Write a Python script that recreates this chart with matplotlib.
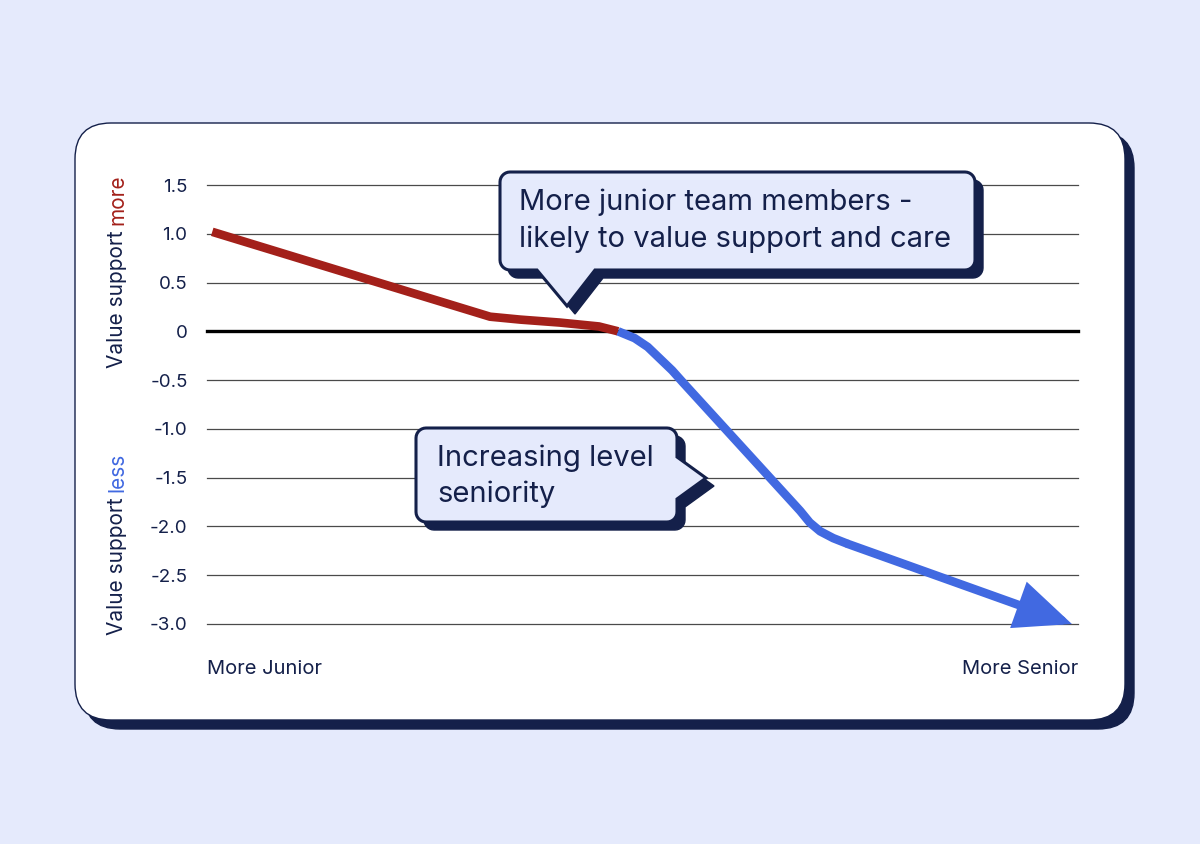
import numpy as np
import matplotlib.pyplot as plt
from matplotlib.patches import FancyBboxPatch, Polygon

plt.rcParams['font.family'] = ['Inter', 'DejaVu Sans']

# data (x: 0 = most junior, 100 = most senior)
red_x = [0.6, 32.5, 36.0, 40.5, 45.0, 47.2]
red_y = [1.02, 0.15, 0.12, 0.09, 0.05, 0.0]
blue_x = [47.2, 49.1, 50.6, 52.0, 53.4, 54.6, 68.1, 69.2, 70.4, 71.9, 73.6]
blue_y = [0.0, -0.07, -0.16, -0.28, -0.40, -0.52, -1.84, -1.96, -2.05, -2.12, -2.18]
arrow_tip = (99.3, -3.0)
y_ticks = [1.5, 1.0, 0.5, 0, -0.5, -1.0, -1.5, -2.0, -2.5, -3.0]
y_tick_labels = ['1.5', '1.0', '0.5', '0', '-0.5', '-1.0', '-1.5', '-2.0', '-2.5', '-3.0']

NAVY = '#14204A'
RED = '#A3201A'
BLUE = '#4169E1'
BG = '#E5EAFC'

W, H = 1200, 844
fig = plt.figure(figsize=(12, 8.44), dpi=100, facecolor=BG)

# background layer in pixel coordinates
bg = fig.add_axes([0, 0, 1, 1])
bg.set_xlim(0, W)
bg.set_ylim(H, 0)
bg.axis('off')
bg.add_patch(FancyBboxPatch((84, 132), 1050, 597, boxstyle='round,pad=0,rounding_size=36',
                            fc=NAVY, ec=NAVY, lw=1))
bg.add_patch(FancyBboxPatch((75, 123), 1050, 597, boxstyle='round,pad=0,rounding_size=36',
                            fc='white', ec=NAVY, lw=1))

# y label made of two coloured pieces (baseline on the right side)
lab = dict(rotation=90, rotation_mode='anchor', va='baseline', fontsize=15)
r = fig.canvas.get_renderer()
for y0, word, col in [(368, 'more', RED), (635, 'less', BLUE)]:
    t = bg.text(123, y0, 'Value support', ha='left', color=NAVY, **lab)
    h = t.get_window_extent(renderer=r).height
    bg.text(123, y0 - h - 5, word, ha='left', color=col, **lab)

# chart
ax = fig.add_axes([207 / W, (H - 624) / H, 871 / W, 439 / H])
ax.set_facecolor('none')
ax.set_xlim(0, 100)
ax.set_ylim(-3.0, 1.5)
for s in ax.spines.values():
    s.set_visible(False)
for t in y_ticks:
    if t == 0:
        ax.axhline(t, color='black', lw=2.4, zorder=1, clip_on=False)
    else:
        ax.axhline(t, color='#4a4a4a', lw=0.9, zorder=1, clip_on=False)
ax.set_yticks(y_ticks)
ax.set_yticklabels(y_tick_labels)
ax.tick_params(axis='y', length=0, pad=14, labelsize=13.5, labelcolor=NAVY)
ax.set_xticks([])

ax.plot(red_x, red_y, color=RED, lw=6.2, solid_capstyle='butt', solid_joinstyle='round', zorder=3)
ax.plot(blue_x, blue_y, color=BLUE, lw=6.2, solid_capstyle='butt', solid_joinstyle='round', zorder=3)
ax.annotate('', xy=arrow_tip, xytext=(blue_x[-1], blue_y[-1]),
            arrowprops=dict(arrowstyle='-|>,head_length=1.5,head_width=0.65', lw=6.2, color=BLUE,
                            shrinkA=0, shrinkB=0, mutation_scale=20, joinstyle='miter'),
            zorder=3, annotation_clip=False)

ax.text(0, -0.1025, 'More Junior', transform=ax.transAxes, ha='left', va='center', fontsize=14.5, color=NAVY)
ax.text(1, -0.1025, 'More Senior', transform=ax.transAxes, ha='right', va='center', fontsize=14.5, color=NAVY)

# callouts in pixel coordinates on top
top = fig.add_axes([0, 0, 1, 1])
top.set_xlim(0, W)
top.set_ylim(H, 0)
top.axis('off')


def rounded_poly(x0, y0, x1, y1, r, notch=None, side='bottom'):
    pts = []

    def arc(cx, cy, a0, a1):
        for a in np.linspace(np.radians(a0), np.radians(a1), 8):
            pts.append((cx + r * np.cos(a), cy + r * np.sin(a)))

    # y grows downward; go clockwise on screen starting top-left
    arc(x0 + r, y0 + r, 180, 270)
    arc(x1 - r, y0 + r, 270, 360)
    if side == 'right' and notch:
        pts.extend(notch)
    arc(x1 - r, y1 - r, 0, 90)
    if side == 'bottom' and notch:
        pts.extend(notch)
    arc(x0 + r, y1 - r, 90, 180)
    return pts


def callout(x0, y0, x1, y1, notch, side, off=8):
    sh = rounded_poly(x0 + off, y0 + off, x1 + off, y1 + off, 10,
                      [(a + off, b + off) for a, b in notch], side)
    top.add_patch(Polygon(sh, closed=True, fc=NAVY, ec=NAVY, lw=1))
    main = rounded_poly(x0, y0, x1, y1, 10, notch, side)
    top.add_patch(Polygon(main, closed=True, fc=BG, ec=NAVY, lw=2.2, joinstyle='miter'))


callout(500, 172, 975, 270, [(595, 270), (567, 306), (537, 270)], 'bottom')
top.text(519, 221, 'More junior team members -\nlikely to value support and care',
         ha='left', va='center', fontsize=21, color=NAVY, linespacing=1.45)

callout(416, 428, 677, 522, [(677, 457), (706, 478), (677, 499)], 'right')
top.text(437, 476, 'Increasing level\nseniority',
         ha='left', va='center', fontsize=21, color=NAVY, linespacing=1.4)

fig.savefig('out.png', dpi=100, facecolor=BG)
